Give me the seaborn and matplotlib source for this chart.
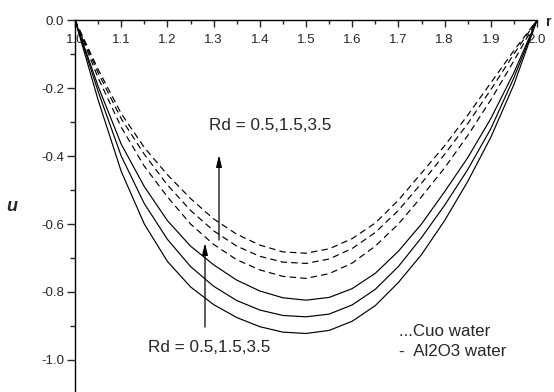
import numpy as np
import pandas as pd
import matplotlib
matplotlib.use("Agg")
import matplotlib.pyplot as plt
import seaborn as sns
from matplotlib.ticker import MultipleLocator, FormatStrFormatter

# radial coordinate between the two walls
r = [1.00, 1.05, 1.10, 1.15, 1.20, 1.25, 1.30, 1.35, 1.40, 1.45, 1.50,
     1.55, 1.60, 1.65, 1.70, 1.75, 1.80, 1.85, 1.90, 1.95, 2.00]

# velocity profiles, Al2O3-water (solid), Rd = 0.5, 1.5, 3.5
u_al2o3_rd05 = [0, -0.195, -0.365, -0.490, -0.590, -0.665, -0.720, -0.765, -0.797, -0.817, -0.824,
                -0.816, -0.790, -0.745, -0.680, -0.600, -0.505, -0.405, -0.290, -0.155, 0]
u_al2o3_rd15 = [0, -0.210, -0.400, -0.540, -0.645, -0.725, -0.783, -0.825, -0.853, -0.869, -0.873,
                -0.865, -0.838, -0.792, -0.725, -0.640, -0.545, -0.440, -0.320, -0.170, 0]
u_al2o3_rd35 = [0, -0.235, -0.445, -0.600, -0.710, -0.785, -0.837, -0.875, -0.902, -0.918, -0.922,
                -0.913, -0.886, -0.840, -0.772, -0.690, -0.590, -0.475, -0.345, -0.190, 0]

# velocity profiles, CuO-water (dashed), Rd = 0.5, 1.5, 3.5
u_cuo_rd05 = [0, -0.145, -0.275, -0.375, -0.455, -0.525, -0.585, -0.630, -0.662, -0.682, -0.686,
              -0.673, -0.643, -0.597, -0.530, -0.450, -0.370, -0.280, -0.185, -0.090, 0]
u_cuo_rd15 = [0, -0.155, -0.290, -0.395, -0.485, -0.560, -0.620, -0.665, -0.695, -0.712, -0.716,
              -0.703, -0.672, -0.625, -0.560, -0.480, -0.395, -0.305, -0.205, -0.100, 0]
u_cuo_rd35 = [0, -0.170, -0.315, -0.430, -0.520, -0.600, -0.660, -0.705, -0.735, -0.754, -0.760,
              -0.746, -0.715, -0.665, -0.600, -0.520, -0.435, -0.340, -0.235, -0.120, 0]

x_ticks = [1.0, 1.1, 1.2, 1.3, 1.4, 1.5, 1.6, 1.7, 1.8, 1.9, 2.0]
y_ticks = [0.0, -0.2, -0.4, -0.6, -0.8, -1.0]
rd_label = "Rd = 0.5,1.5,3.5"

curves = [
    ("Al2O3 water", "0.5", u_al2o3_rd05),
    ("Al2O3 water", "1.5", u_al2o3_rd15),
    ("Al2O3 water", "3.5", u_al2o3_rd35),
    ("Cuo water", "0.5", u_cuo_rd05),
    ("Cuo water", "1.5", u_cuo_rd15),
    ("Cuo water", "3.5", u_cuo_rd35),
]
frames = []
for fluid, rd, u in curves:
    frames.append(pd.DataFrame({"r": r, "u": u, "fluid": fluid, "Rd": rd,
                                "curve": f"{fluid} {rd}"}))
df = pd.concat(frames, ignore_index=True)

sns.set_style("white")
plt.rcParams["font.family"] = ["Liberation Sans", "DejaVu Sans"]
plt.rcParams["axes.unicode_minus"] = False

W, H = 554, 392
fig = plt.figure(figsize=(W / 100, H / 100), dpi=100)
left, right, top = 75 / W, 537 / W, 20 / H
ax = fig.add_axes([left, 0, right - left, 1 - top])

sns.lineplot(data=df, x="r", y="u", units="curve", estimator=None, sort=False,
             style="fluid", dashes={"Al2O3 water": "", "Cuo water": (5.5, 3.5)},
             color="black", linewidth=0.85, legend=False, ax=ax)

ax.set_xlim(1.0, 2.0)
ax.set_ylim(-(H - 20) / 340, 0)

# axis line at u = 0 along the top, labels hanging below it
for s in ("top", "right"):
    ax.spines[s].set_visible(False)
ax.spines["bottom"].set_position(("data", 0))
for s in ("bottom", "left"):
    ax.spines[s].set_linewidth(1.0)
    ax.spines[s].set_color("black")

ax.set_xticks(x_ticks)
ax.set_yticks(y_ticks)
ax.xaxis.set_minor_locator(MultipleLocator(0.05))
ax.yaxis.set_minor_locator(MultipleLocator(0.1))
ax.xaxis.set_major_formatter(FormatStrFormatter("%.1f"))
ax.yaxis.set_major_formatter(FormatStrFormatter("%.1f"))
ax.tick_params(axis="x", which="major", direction="out", length=5, width=1,
               labelsize=9.5, pad=5, bottom=True)
ax.tick_params(axis="x", which="minor", direction="out", length=3, width=1, bottom=True)
ax.tick_params(axis="y", which="major", direction="out", length=6, width=1,
               labelsize=9.5, pad=2, left=True)
ax.tick_params(axis="y", which="minor", direction="out", length=3.5, width=1, left=True)
ax.set_xlabel("")
ax.set_ylabel("")


def px(xp, yp):
    return (xp / W, 1 - yp / H)


fig.text(*px(12, 207), "u", fontsize=13, fontweight="bold", fontstyle="italic",
         ha="center", va="center")
fig.text(*px(546, 22), "r", fontsize=10, fontweight="bold", ha="left", va="center")

fig.text(*px(270, 126), rd_label, fontsize=12.3, ha="center", va="center")
fig.text(*px(209.5, 347), rd_label, fontsize=12.3, ha="center", va="center")

arrow_style = dict(arrowstyle="-|>,head_length=0.7,head_width=0.17", color="black",
                   lw=0.9, shrinkA=0, shrinkB=0)
ax.annotate("", xy=px(219, 155), xycoords="figure fraction",
            xytext=px(219, 240), textcoords="figure fraction", arrowprops=arrow_style)
ax.annotate("", xy=px(205, 243), xycoords="figure fraction",
            xytext=px(205, 327), textcoords="figure fraction", arrowprops=arrow_style)

fig.text(*px(399, 332), "...Cuo water", fontsize=12.2, ha="left", va="center")
fig.text(*px(399, 352), "-  Al2O3 water", fontsize=12.2, ha="left", va="center")

fig.savefig("out.png", dpi=100)
